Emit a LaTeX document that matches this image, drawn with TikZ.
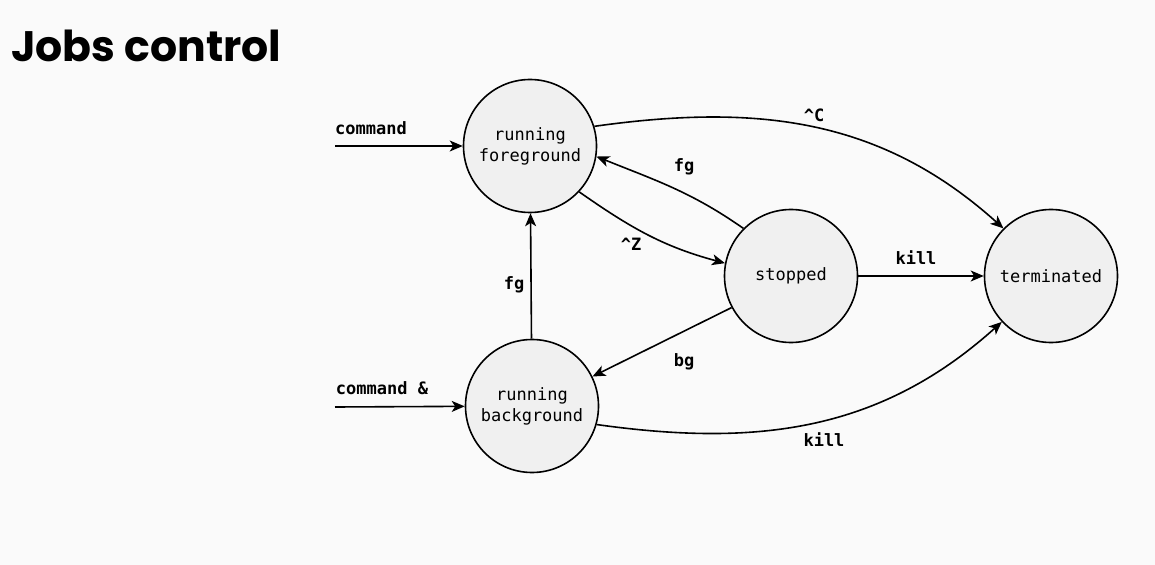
\documentclass[tikz,border=0pt]{standalone}
\usepackage{fontspec}
\newfontfamily\titlefont{Poppins}
\newfontfamily\monofont{DejaVu Sans Mono}
\usetikzlibrary{shapes.geometric,arrows.meta}
\definecolor{bgc}{HTML}{FAFAFA}
\definecolor{statefill}{HTML}{F0F0F0}
\begin{document}
\begin{tikzpicture}[x=1bp,y=-1bp,
  state/.style={circle,draw,line width=1.6bp,fill=statefill,minimum size=133bp,inner sep=0pt,align=center,font=\monofont\fontsize{17bp}{21bp}\selectfont},
  lab/.style={font=\monofont\bfseries\fontsize{17bp}{20bp}\selectfont,inner sep=0pt},
  conn/.style={line width=1.6bp,-{Stealth[length=13bp,width=11bp,inset=3.5bp]}}]
\fill[bgc] (0,0) rectangle (1155,565);
\useasboundingbox (0,0) rectangle (1155,565);
\node[anchor=base west,inner sep=0pt,font=\titlefont\bfseries\fontsize{42.6bp}{50bp}\selectfont] (title) at (11,62) {Jobs control};
\node[state] (rf) at (530,146) {running\\foreground};
\node[state] (rb) at (532,406) {running\\background};
\node[state] (st) at (791,276) {stopped};
\node[state] (tm) at (1051,276) {terminated};
\coordinate (c1) at (335,146);
\coordinate (c2) at (335,407);
\draw[conn] (c1) -- (rf);
\draw[conn] (c2) -- (rb);
\node[lab] (l1) at (371,128) {command};
\node[lab] (l2) at (382,388) {command \&};
\draw[conn] (rb) -- (rf);
\node[lab] (l3) at (514,285) {fg};
\draw[conn] (rf.-43) to[out=-35,in=165] (st.169);
\node[lab] (l4) at (631,244) {\char`\^Z};
\draw[conn] (st.135) to[out=145,in=-22] (rf.-9);
\node[lab] (l5) at (684,167) {fg};
\draw[conn] (st.208) -- (rb.26);
\node[lab] (l6) at (684,362) {bg};
\draw[conn] (st) -- (tm);
\node[lab] (l7) at (916,258) {kill};
\draw[conn] (rf.17) to[out=8,in=138] (tm.135);
\node[lab] (l8) at (814,115) {\char`\^C};
\draw[conn] (rb.-16) to[out=-8,in=-138] (tm.-137);
\node[lab] (l9) at (824,440) {kill};
\end{tikzpicture}
\end{document}
